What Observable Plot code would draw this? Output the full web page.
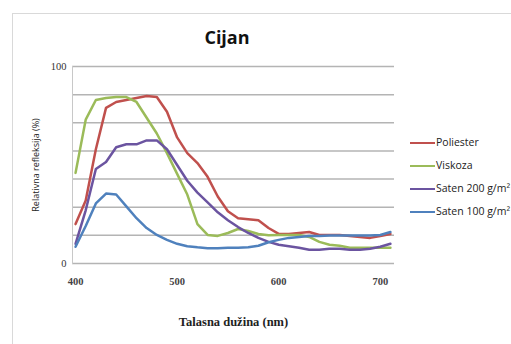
<!DOCTYPE html>
<html><head><meta charset="utf-8">
<script src="https://cdn.jsdelivr.net/npm/d3@7"></script>
<script src="https://cdn.jsdelivr.net/npm/@observablehq/plot@0.6"></script>
<style>
html,body{margin:0;padding:0;background:#fff;overflow:hidden;}
#wrap{position:relative;width:511px;height:344px;overflow:hidden;}
#border{position:absolute;left:12px;top:13px;width:560px;height:400px;border:1px solid #d9d9d9;box-sizing:border-box;}
#title{position:absolute;left:0;width:454px;top:25px;text-align:center;font:bold 18px "Open Sans",sans-serif;color:#111;}
.leg{position:absolute;left:410px;font:10.5px "Open Sans",sans-serif;color:#222;white-space:nowrap;}
.leg span{display:inline-block;width:25px;height:0;border-top:2px solid;vertical-align:middle;margin-right:1px;}
#plot{position:absolute;left:0;top:0;}
</style></head>
<body><div id="wrap"><div id="border"></div><div id="plot"></div><div id="title"></div></div>
<script>
const wavelengths = [400,410,420,430,440,450,460,470,480,490,500,510,520,530,540,550,560,570,580,590,600,610,620,630,640,650,660,670,680,690,700,710];
const seriesNames = ["Poliester","Viskoza","Saten 200 g/m²","Saten 100 g/m²"];
const seriesColors = ["#c0504d","#9bbb59","#6b54a0","#4f81bd"];
const poliester = [20,32,58,79,82,83,84,85,84.5,77,64,56,51,44,34,26.5,23,22.5,22,18,15,15,15.5,16,14.5,14.5,14.5,14,13.5,13,14,15];
const viskoza = [46,73,83,84,84.5,84.5,82,74,66,56,45.5,35,20,14.5,14,15.5,17.5,16.5,15,14.3,14.5,14.5,14.5,13.5,11,9.5,9,8,8,8,8,8];
const saten200 = [10,27,48,51.5,59,60.5,60.5,62.5,62.5,58,50,42,36,31,26,22,18.5,15.5,13,11,9.5,8.8,8,7,7,7.5,7.5,7,7,7.5,8.5,10];
const saten100 = [8.5,19,30.5,35.5,35,29,23,18,14.5,12,10,8.8,8.2,7.8,7.8,8,8,8.2,9,10.8,12,13,13.5,14,14,14.2,14.2,14.2,14.2,14.2,14.5,16];
const xTicks = [400,500,600,700];
const yTickLabels = [0,100];
const yGrid = [0,14.29,28.57,42.86,57.14,71.43,85.71,100];
const titleText = "Cijan";
const xTitle = "Talasna dužina (nm)";
const yTitle = "Relativna refleksija (%)";

const values = [poliester, viskoza, saten200, saten100];
const data = [];
seriesNames.forEach((s,i)=>wavelengths.forEach((w,j)=>data.push({series:s, nm:w, v:values[i][j]})));

const chart = Plot.plot({
  width:511, height:344,
  marginLeft:72, marginRight:117, marginTop:66, marginBottom:81,
  style:{background:"transparent", overflow:"visible"},
  x:{domain:[397,714]},
  y:{domain:[0,100]},
  color:{domain:seriesNames, range:seriesColors},
  marks:[
    Plot.ruleY(yGrid,{stroke:"#b4b4b4", strokeWidth:1.5}),
    Plot.frame({anchor:"left", stroke:"#c8c8c8"}),
    Plot.lineY(data,{x:"nm", y:"v", z:"series", stroke:"series", strokeWidth:2.5, strokeLinejoin:"round"}),
    Plot.axisX({ticks:xTicks, tickSize:0, tickPadding:14, fontFamily:"Liberation Serif", fontSize:10.5, fontWeight:"bold", fill:"#444", label:xTitle, labelAnchor:"center", labelArrow:"none", labelOffset:62}),
    Plot.axisY({ticks:yTickLabels, tickSize:0, tickPadding:6, fontFamily:"Liberation Serif", fontSize:10.5, fill:"#333", label:yTitle, labelAnchor:"center", labelArrow:"none", labelOffset:40})
  ]
});
document.getElementById("plot").appendChild(chart);
d3.select(chart).selectAll("[aria-label='x-axis label'] text").attr("font-family","Liberation Serif").attr("font-size",12.5).attr("font-weight","bold").attr("fill","#222");
d3.select(chart).selectAll("[aria-label='y-axis label'] text").attr("font-family","Open Sans").attr("font-size",9).attr("font-weight","normal").attr("fill","#222");
document.getElementById("title").textContent = titleText;
const legTops = [135,158,181,204];
seriesNames.forEach((s,i)=>{
  const d = document.createElement("div");
  d.className="leg"; d.style.top = legTops[i]+"px";
  d.innerHTML = `<span style="border-color:${seriesColors[i]}"></span>${s}`;
  document.getElementById("wrap").appendChild(d);
});
</script></body></html>
